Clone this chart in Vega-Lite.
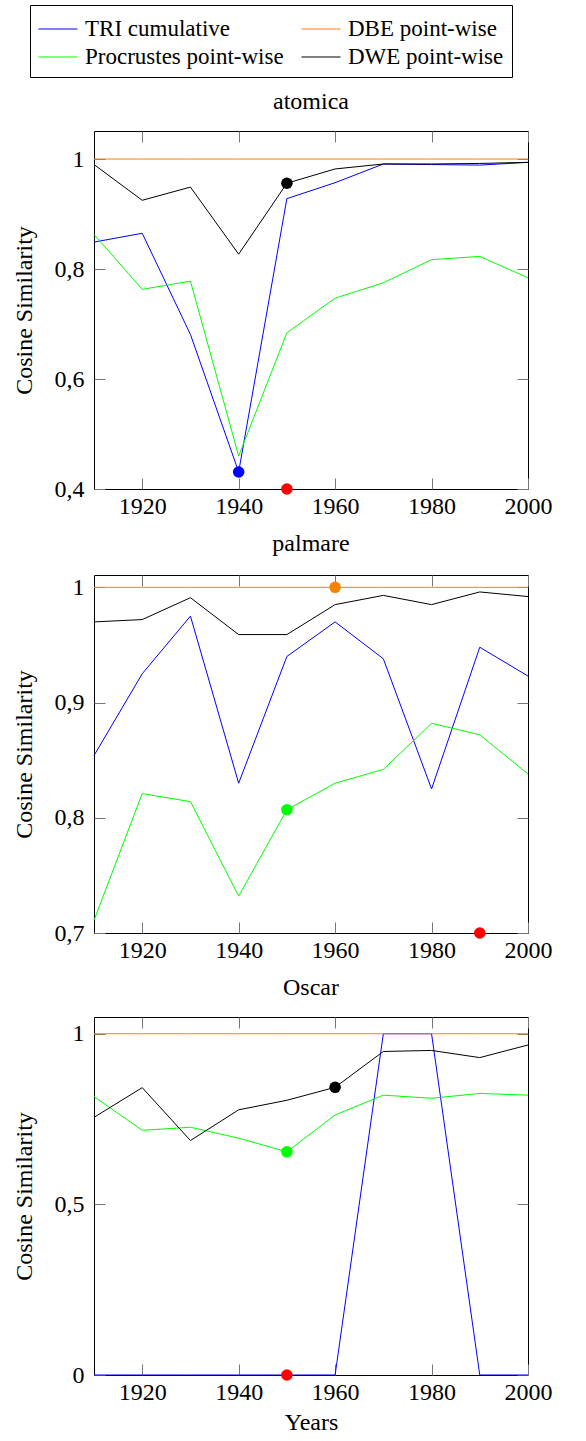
{
  "$schema": "https://vega.github.io/schema/vega-lite/v6.json",
  "background": "white",
  "padding": {"left": 11, "top": 4, "right": 5, "bottom": 0},
  "datasets": {
    "lines": [
      {"word":"atomica","series":"TRI cumulative","year":1910,"value":0.849},
      {"word":"atomica","series":"TRI cumulative","year":1920,"value":0.865},
      {"word":"atomica","series":"TRI cumulative","year":1930,"value":0.681},
      {"word":"atomica","series":"TRI cumulative","year":1940,"value":0.431},
      {"word":"atomica","series":"TRI cumulative","year":1950,"value":0.928},
      {"word":"atomica","series":"TRI cumulative","year":1960,"value":0.957},
      {"word":"atomica","series":"TRI cumulative","year":1970,"value":0.991},
      {"word":"atomica","series":"TRI cumulative","year":1980,"value":0.990},
      {"word":"atomica","series":"TRI cumulative","year":1990,"value":0.989},
      {"word":"atomica","series":"TRI cumulative","year":2000,"value":0.994},
      {"word":"atomica","series":"DBE point-wise","year":1910,"value":1.0},
      {"word":"atomica","series":"DBE point-wise","year":1920,"value":1.0},
      {"word":"atomica","series":"DBE point-wise","year":1930,"value":1.0},
      {"word":"atomica","series":"DBE point-wise","year":1940,"value":1.0},
      {"word":"atomica","series":"DBE point-wise","year":1950,"value":1.0},
      {"word":"atomica","series":"DBE point-wise","year":1960,"value":1.0},
      {"word":"atomica","series":"DBE point-wise","year":1970,"value":1.0},
      {"word":"atomica","series":"DBE point-wise","year":1980,"value":1.0},
      {"word":"atomica","series":"DBE point-wise","year":1990,"value":1.0},
      {"word":"atomica","series":"DBE point-wise","year":2000,"value":1.0},
      {"word":"atomica","series":"Procrustes point-wise","year":1910,"value":0.863},
      {"word":"atomica","series":"Procrustes point-wise","year":1920,"value":0.763},
      {"word":"atomica","series":"Procrustes point-wise","year":1930,"value":0.778},
      {"word":"atomica","series":"Procrustes point-wise","year":1940,"value":0.460},
      {"word":"atomica","series":"Procrustes point-wise","year":1950,"value":0.684},
      {"word":"atomica","series":"Procrustes point-wise","year":1960,"value":0.747},
      {"word":"atomica","series":"Procrustes point-wise","year":1970,"value":0.775},
      {"word":"atomica","series":"Procrustes point-wise","year":1980,"value":0.817},
      {"word":"atomica","series":"Procrustes point-wise","year":1990,"value":0.823},
      {"word":"atomica","series":"Procrustes point-wise","year":2000,"value":0.784},
      {"word":"atomica","series":"DWE point-wise","year":1910,"value":0.990},
      {"word":"atomica","series":"DWE point-wise","year":1920,"value":0.925},
      {"word":"atomica","series":"DWE point-wise","year":1930,"value":0.949},
      {"word":"atomica","series":"DWE point-wise","year":1940,"value":0.827},
      {"word":"atomica","series":"DWE point-wise","year":1950,"value":0.956},
      {"word":"atomica","series":"DWE point-wise","year":1960,"value":0.982},
      {"word":"atomica","series":"DWE point-wise","year":1970,"value":0.991},
      {"word":"atomica","series":"DWE point-wise","year":1980,"value":0.991},
      {"word":"atomica","series":"DWE point-wise","year":1990,"value":0.992},
      {"word":"atomica","series":"DWE point-wise","year":2000,"value":0.994},

      {"word":"palmare","series":"TRI cumulative","year":1910,"value":0.854},
      {"word":"palmare","series":"TRI cumulative","year":1920,"value":0.925},
      {"word":"palmare","series":"TRI cumulative","year":1930,"value":0.975},
      {"word":"palmare","series":"TRI cumulative","year":1940,"value":0.830},
      {"word":"palmare","series":"TRI cumulative","year":1950,"value":0.940},
      {"word":"palmare","series":"TRI cumulative","year":1960,"value":0.970},
      {"word":"palmare","series":"TRI cumulative","year":1970,"value":0.938},
      {"word":"palmare","series":"TRI cumulative","year":1980,"value":0.825},
      {"word":"palmare","series":"TRI cumulative","year":1990,"value":0.948},
      {"word":"palmare","series":"TRI cumulative","year":2000,"value":0.923},
      {"word":"palmare","series":"DBE point-wise","year":1910,"value":1.0},
      {"word":"palmare","series":"DBE point-wise","year":1920,"value":1.0},
      {"word":"palmare","series":"DBE point-wise","year":1930,"value":1.0},
      {"word":"palmare","series":"DBE point-wise","year":1940,"value":1.0},
      {"word":"palmare","series":"DBE point-wise","year":1950,"value":1.0},
      {"word":"palmare","series":"DBE point-wise","year":1960,"value":1.0},
      {"word":"palmare","series":"DBE point-wise","year":1970,"value":1.0},
      {"word":"palmare","series":"DBE point-wise","year":1980,"value":1.0},
      {"word":"palmare","series":"DBE point-wise","year":1990,"value":1.0},
      {"word":"palmare","series":"DBE point-wise","year":2000,"value":1.0},
      {"word":"palmare","series":"Procrustes point-wise","year":1910,"value":0.711},
      {"word":"palmare","series":"Procrustes point-wise","year":1920,"value":0.821},
      {"word":"palmare","series":"Procrustes point-wise","year":1930,"value":0.814},
      {"word":"palmare","series":"Procrustes point-wise","year":1940,"value":0.732},
      {"word":"palmare","series":"Procrustes point-wise","year":1950,"value":0.807},
      {"word":"palmare","series":"Procrustes point-wise","year":1960,"value":0.830},
      {"word":"palmare","series":"Procrustes point-wise","year":1970,"value":0.842},
      {"word":"palmare","series":"Procrustes point-wise","year":1980,"value":0.882},
      {"word":"palmare","series":"Procrustes point-wise","year":1990,"value":0.872},
      {"word":"palmare","series":"Procrustes point-wise","year":2000,"value":0.838},
      {"word":"palmare","series":"DWE point-wise","year":1910,"value":0.970},
      {"word":"palmare","series":"DWE point-wise","year":1920,"value":0.972},
      {"word":"palmare","series":"DWE point-wise","year":1930,"value":0.991},
      {"word":"palmare","series":"DWE point-wise","year":1940,"value":0.959},
      {"word":"palmare","series":"DWE point-wise","year":1950,"value":0.959},
      {"word":"palmare","series":"DWE point-wise","year":1960,"value":0.985},
      {"word":"palmare","series":"DWE point-wise","year":1970,"value":0.993},
      {"word":"palmare","series":"DWE point-wise","year":1980,"value":0.985},
      {"word":"palmare","series":"DWE point-wise","year":1990,"value":0.996},
      {"word":"palmare","series":"DWE point-wise","year":2000,"value":0.992},

      {"word":"Oscar","series":"TRI cumulative","year":1910,"value":0},
      {"word":"Oscar","series":"TRI cumulative","year":1920,"value":0},
      {"word":"Oscar","series":"TRI cumulative","year":1930,"value":0},
      {"word":"Oscar","series":"TRI cumulative","year":1940,"value":0},
      {"word":"Oscar","series":"TRI cumulative","year":1950,"value":0},
      {"word":"Oscar","series":"TRI cumulative","year":1960,"value":0},
      {"word":"Oscar","series":"TRI cumulative","year":1970,"value":1.0},
      {"word":"Oscar","series":"TRI cumulative","year":1980,"value":1.0},
      {"word":"Oscar","series":"TRI cumulative","year":1990,"value":0},
      {"word":"Oscar","series":"TRI cumulative","year":2000,"value":0},
      {"word":"Oscar","series":"DBE point-wise","year":1910,"value":1.0},
      {"word":"Oscar","series":"DBE point-wise","year":1920,"value":1.0},
      {"word":"Oscar","series":"DBE point-wise","year":1930,"value":1.0},
      {"word":"Oscar","series":"DBE point-wise","year":1940,"value":1.0},
      {"word":"Oscar","series":"DBE point-wise","year":1950,"value":1.0},
      {"word":"Oscar","series":"DBE point-wise","year":1960,"value":1.0},
      {"word":"Oscar","series":"DBE point-wise","year":1970,"value":1.0},
      {"word":"Oscar","series":"DBE point-wise","year":1980,"value":1.0},
      {"word":"Oscar","series":"DBE point-wise","year":1990,"value":1.0},
      {"word":"Oscar","series":"DBE point-wise","year":2000,"value":1.0},
      {"word":"Oscar","series":"Procrustes point-wise","year":1910,"value":0.816},
      {"word":"Oscar","series":"Procrustes point-wise","year":1920,"value":0.717},
      {"word":"Oscar","series":"Procrustes point-wise","year":1930,"value":0.726},
      {"word":"Oscar","series":"Procrustes point-wise","year":1940,"value":0.694},
      {"word":"Oscar","series":"Procrustes point-wise","year":1950,"value":0.654},
      {"word":"Oscar","series":"Procrustes point-wise","year":1960,"value":0.762},
      {"word":"Oscar","series":"Procrustes point-wise","year":1970,"value":0.820},
      {"word":"Oscar","series":"Procrustes point-wise","year":1980,"value":0.811},
      {"word":"Oscar","series":"Procrustes point-wise","year":1990,"value":0.825},
      {"word":"Oscar","series":"Procrustes point-wise","year":2000,"value":0.820},
      {"word":"Oscar","series":"DWE point-wise","year":1910,"value":0.755},
      {"word":"Oscar","series":"DWE point-wise","year":1920,"value":0.842},
      {"word":"Oscar","series":"DWE point-wise","year":1930,"value":0.687},
      {"word":"Oscar","series":"DWE point-wise","year":1940,"value":0.777},
      {"word":"Oscar","series":"DWE point-wise","year":1950,"value":0.805},
      {"word":"Oscar","series":"DWE point-wise","year":1960,"value":0.843},
      {"word":"Oscar","series":"DWE point-wise","year":1970,"value":0.948},
      {"word":"Oscar","series":"DWE point-wise","year":1980,"value":0.951},
      {"word":"Oscar","series":"DWE point-wise","year":1990,"value":0.930},
      {"word":"Oscar","series":"DWE point-wise","year":2000,"value":0.967}
    ],
    "dots": [
      {"word":"atomica","series":"DWE point-wise","year":1950,"value":0.956},
      {"word":"atomica","series":"TRI cumulative","year":1940,"value":0.431},
      {"word":"atomica","series":"Reference","year":1950,"value":0.4},
      {"word":"palmare","series":"DBE point-wise","year":1960,"value":1.0},
      {"word":"palmare","series":"Procrustes point-wise","year":1950,"value":0.807},
      {"word":"palmare","series":"Reference","year":1990,"value":0.7},
      {"word":"Oscar","series":"DWE point-wise","year":1960,"value":0.843},
      {"word":"Oscar","series":"Procrustes point-wise","year":1950,"value":0.654},
      {"word":"Oscar","series":"Reference","year":1950,"value":0}
    ]
  },
  "config": {
    "font": "Liberation Serif, Times New Roman, Times, DejaVu Serif, serif",
    "view": {"stroke": "black", "strokeWidth": 1},
    "axis": {
      "domain": false,
      "grid": false,
      "ticks": true,
      "tickColor": "#777777",
      "tickSize": -11,
      "tickWidth": 1,
      "labelFont": "Liberation Serif, Times New Roman, Times, DejaVu Serif, serif",
      "labelFontSize": 24,
      "labelColor": "black",
      "labelFlush": false,
      "labelOverlap": false,
      "labelBound": false,
      "titleFont": "Liberation Serif, Times New Roman, Times, DejaVu Serif, serif",
      "titleFontSize": 24,
      "titleFontWeight": "normal",
      "titleColor": "black"
    },
    "axisX": {"labelPadding": 16, "format": "d"},
    "axisY": {"labelPadding": 21, "titlePadding": 18},
    "title": {"font": "Liberation Serif, Times New Roman, Times, DejaVu Serif, serif", "fontSize": 24, "fontWeight": "normal", "color": "black", "anchor": "middle", "offset": 17},
    "legend": {
      "orient": "none",
      "legendX": -64,
      "legendY": -126,
      "direction": "horizontal",
      "columns": 2,
      "strokeColor": "black",
      "fillColor": "white",
      "padding": 8,
      "cornerRadius": 0,
      "symbolType": "M-1.26,0H1.26",
      "symbolSize": 961,
      "symbolOffset": 4,
      "symbolStrokeWidth": 1,
      "labelFont": "Liberation Serif, Times New Roman, Times, DejaVu Serif, serif",
      "labelFontSize": 23,
      "labelColor": "black",
      "labelOffset": 11,
      "labelLimit": 400,
      "columnPadding": 15,
      "rowPadding": 0
    }
  },
  "spacing": 12,
  "vconcat": [
    {
      "title": "atomica",
      "width": 434,
      "height": 358,
      "layer": [
        {
          "data": {"name": "lines"},
          "transform": [{"filter": "datum.word === 'atomica'"}],
          "mark": {"type": "line", "strokeWidth": 1},
          "encoding": {
            "x": {"field": "year", "type": "quantitative", "scale": {"domain": [1910, 2000], "nice": false, "zero": false}, "axis": {"values": [1920, 1940, 1960, 1980, 2000], "title": null}},
            "y": {"field": "value", "type": "quantitative", "scale": {"domain": [0.4, 1.051], "nice": false, "zero": false}, "axis": {"values": [0.4, 0.6, 0.8, 1], "title": "Cosine Similarity", "labelExpr": "replace(toString(datum.value), '.', ',')"}},
            "color": {"field": "series", "type": "nominal", "title": null, "scale": {"domain": ["TRI cumulative", "DBE point-wise", "Procrustes point-wise", "DWE point-wise"], "range": ["#0000ff", "#ff8000", "#00ff00", "#000000"]}}
          }
        },
        {
          "data": {"name": "dots"},
          "transform": [{"filter": "datum.word === 'atomica'"}],
          "mark": {"type": "circle", "size": 133, "opacity": 1},
          "encoding": {
            "x": {"field": "year", "type": "quantitative", "scale": {"domain": [1910, 2000], "nice": false, "zero": false}, "axis": {"orient": "top", "labels": false, "title": null, "values": [1920, 1940, 1960, 1980, 2000]}},
            "y": {"field": "value", "type": "quantitative", "scale": {"domain": [0.4, 1.051], "nice": false, "zero": false}, "axis": {"orient": "right", "labels": false, "title": null, "values": [0.4, 0.6, 0.8, 1]}},
            "fill": {"field": "series", "type": "nominal", "legend": null, "scale": {"domain": ["TRI cumulative", "DBE point-wise", "Procrustes point-wise", "DWE point-wise", "Reference"], "range": ["#0000ff", "#ff8000", "#00ff00", "#000000", "#ff0000"]}}
          }
        }
      ],
      "resolve": {"axis": {"x": "independent", "y": "independent"}}
    },
    {
      "title": {"text": "palmare", "offset": 19},
      "width": 434,
      "height": 358,
      "layer": [
        {
          "data": {"name": "lines"},
          "transform": [{"filter": "datum.word === 'palmare'"}],
          "mark": {"type": "line", "strokeWidth": 1},
          "encoding": {
            "x": {"field": "year", "type": "quantitative", "scale": {"domain": [1910, 2000], "nice": false, "zero": false}, "axis": {"values": [1920, 1940, 1960, 1980, 2000], "title": null}},
            "y": {"field": "value", "type": "quantitative", "scale": {"domain": [0.7, 1.0107], "nice": false, "zero": false}, "axis": {"values": [0.7, 0.8, 0.9, 1], "title": "Cosine Similarity", "labelExpr": "replace(toString(datum.value), '.', ',')"}},
            "color": {"field": "series", "type": "nominal", "title": null, "scale": {"domain": ["TRI cumulative", "DBE point-wise", "Procrustes point-wise", "DWE point-wise"], "range": ["#0000ff", "#ff8000", "#00ff00", "#000000"]}}
          }
        },
        {
          "data": {"name": "dots"},
          "transform": [{"filter": "datum.word === 'palmare'"}],
          "mark": {"type": "circle", "size": 133, "opacity": 1},
          "encoding": {
            "x": {"field": "year", "type": "quantitative", "scale": {"domain": [1910, 2000], "nice": false, "zero": false}, "axis": {"orient": "top", "labels": false, "title": null, "values": [1920, 1940, 1960, 1980, 2000]}},
            "y": {"field": "value", "type": "quantitative", "scale": {"domain": [0.7, 1.0107], "nice": false, "zero": false}, "axis": {"orient": "right", "labels": false, "title": null, "values": [0.7, 0.8, 0.9, 1]}},
            "fill": {"field": "series", "type": "nominal", "legend": null, "scale": {"domain": ["TRI cumulative", "DBE point-wise", "Procrustes point-wise", "DWE point-wise", "Reference"], "range": ["#0000ff", "#ff8000", "#00ff00", "#000000", "#ff0000"]}}
          }
        }
      ],
      "resolve": {"axis": {"x": "independent", "y": "independent"}}
    },
    {
      "title": "Oscar",
      "width": 434,
      "height": 358,
      "layer": [
        {
          "data": {"name": "lines"},
          "transform": [{"filter": "datum.word === 'Oscar'"}],
          "mark": {"type": "line", "strokeWidth": 1},
          "encoding": {
            "x": {"field": "year", "type": "quantitative", "scale": {"domain": [1910, 2000], "nice": false, "zero": false}, "axis": {"values": [1920, 1940, 1960, 1980, 2000], "title": "Years", "titlePadding": 6}},
            "y": {"field": "value", "type": "quantitative", "scale": {"domain": [0, 1.049], "nice": false, "zero": false}, "axis": {"values": [0, 0.5, 1], "title": "Cosine Similarity", "labelExpr": "replace(toString(datum.value), '.', ',')"}},
            "color": {"field": "series", "type": "nominal", "title": null, "scale": {"domain": ["TRI cumulative", "DBE point-wise", "Procrustes point-wise", "DWE point-wise"], "range": ["#0000ff", "#ff8000", "#00ff00", "#000000"]}}
          }
        },
        {
          "data": {"name": "dots"},
          "transform": [{"filter": "datum.word === 'Oscar'"}],
          "mark": {"type": "circle", "size": 133, "opacity": 1},
          "encoding": {
            "x": {"field": "year", "type": "quantitative", "scale": {"domain": [1910, 2000], "nice": false, "zero": false}, "axis": {"orient": "top", "labels": false, "title": null, "values": [1920, 1940, 1960, 1980, 2000]}},
            "y": {"field": "value", "type": "quantitative", "scale": {"domain": [0, 1.049], "nice": false, "zero": false}, "axis": {"orient": "right", "labels": false, "title": null, "values": [0, 0.5, 1]}},
            "fill": {"field": "series", "type": "nominal", "legend": null, "scale": {"domain": ["TRI cumulative", "DBE point-wise", "Procrustes point-wise", "DWE point-wise", "Reference"], "range": ["#0000ff", "#ff8000", "#00ff00", "#000000", "#ff0000"]}}
          }
        }
      ],
      "resolve": {"axis": {"x": "independent", "y": "independent"}}
    }
  ]
}
